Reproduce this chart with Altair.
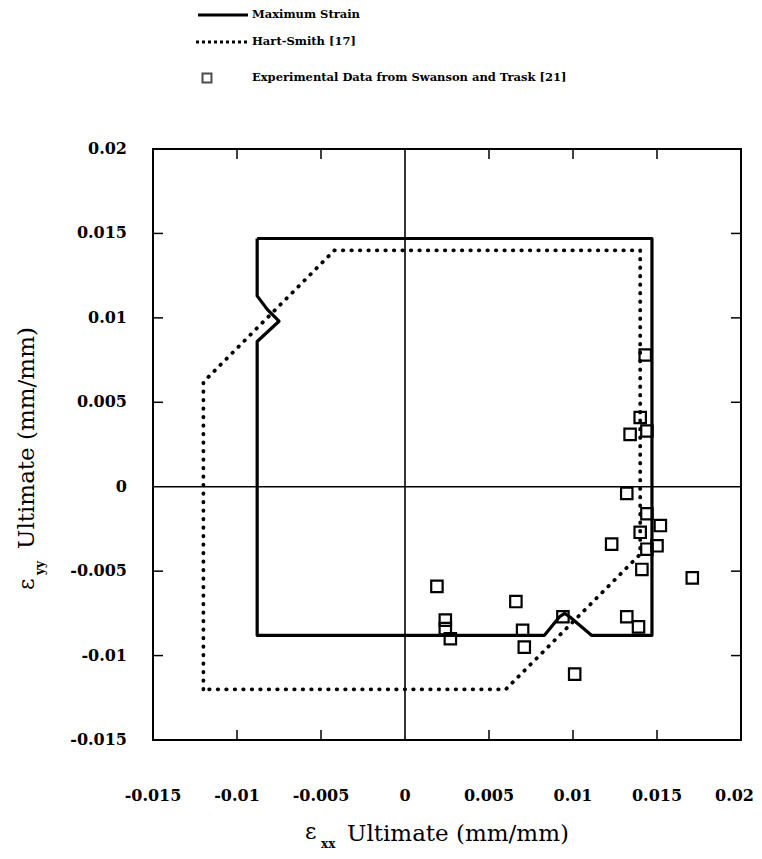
import altair as alt
import pandas as pd

# ---------------- data ----------------
# Maximum strain envelope (closed path)
max_strain_x = [-0.0088, 0.0147, 0.0147, 0.0111, 0.0098, 0.0095, 0.0092, 0.0083,
                -0.0088, -0.0088, -0.0075, -0.0082, -0.0088, -0.0088]
max_strain_y = [0.0147, 0.0147, -0.0088, -0.0088, -0.0077, -0.0075, -0.0077, -0.0088,
                -0.0088, 0.0086, 0.0098, 0.0105, 0.0113, 0.0147]

# Hart-Smith envelope (closed path)
hart_x = [-0.012, -0.012, -0.0042, 0.014, 0.014, 0.006, -0.012]
hart_y = [-0.012, 0.0062, 0.014, 0.014, -0.004, -0.012, -0.012]

# Experimental data (Swanson and Trask)
exp_x = [0.0143, 0.0140, 0.0144, 0.0134, 0.0132, 0.0144, 0.0152, 0.0140, 0.0123,
         0.0144, 0.0150, 0.0141, 0.0171, 0.0019, 0.0066, 0.0024, 0.0024, 0.0027,
         0.0070, 0.0071, 0.0094, 0.0132, 0.0139, 0.0101]
exp_y = [0.0078, 0.0041, 0.0033, 0.0031, -0.0004, -0.0016, -0.0023, -0.0027, -0.0034,
         -0.0037, -0.0035, -0.0049, -0.0054, -0.0059, -0.0068, -0.0079, -0.0084, -0.0090,
         -0.0085, -0.0095, -0.0077, -0.0077, -0.0083, -0.0111]

tick_values = [-0.015, -0.01, -0.005, 0, 0.005, 0.01, 0.015, 0.02]
tick_labels = ["-0.015", "-0.01", "-0.005", "0", "0.005", "0.01", "0.015", "0.02"]
inner_ticks = [-0.01, -0.005, 0.005, 0.01, 0.015]

legend_labels = ["Maximum Strain", "Hart-Smith [17]",
                 "Experimental Data from Swanson and Trask [21]"]
x_title = "Ultimate (mm/mm)"
y_title = "Ultimate (mm/mm)"

# ---------------- chart ----------------
W, H = 588, 591
SERIF = "DejaVu Serif"
DOM = [-0.015, 0.02]

xs = alt.Scale(domain=DOM, nice=False, zero=False)
ys = alt.Scale(domain=DOM, nice=False, zero=False)


def X(f):
    return alt.X(f, scale=xs, axis=None)


def Y(f):
    return alt.Y(f, scale=ys, axis=None)


one = pd.DataFrame({"a": [0]})
zero_df = pd.DataFrame({"v": [0.0]})
ticks_df = pd.DataFrame({"t": inner_ticks})
lab_df = pd.DataFrame({"t": tick_values, "lab": tick_labels})
xlab_main = lab_df.iloc[:-1]
xlab_last = lab_df.iloc[-1:]

zero_v = alt.Chart(zero_df).mark_rule(color="black", strokeWidth=1.6).encode(x=X("v:Q"))
zero_h = alt.Chart(zero_df).mark_rule(color="black", strokeWidth=1.6).encode(y=Y("v:Q"))

TL = 10
tick_top = alt.Chart(ticks_df).mark_rule(color="black", strokeWidth=1.5).encode(
    x=X("t:Q"), y=alt.value(0), y2=alt.value(TL))
tick_bot = alt.Chart(ticks_df).mark_rule(color="black", strokeWidth=1.5).encode(
    x=X("t:Q"), y=alt.value(H - TL), y2=alt.value(H))
tick_left = alt.Chart(ticks_df).mark_rule(color="black", strokeWidth=1.5).encode(
    y=Y("t:Q"), x=alt.value(0), x2=alt.value(TL))
tick_right = alt.Chart(ticks_df).mark_rule(color="black", strokeWidth=1.5).encode(
    y=Y("t:Q"), x=alt.value(W - TL), x2=alt.value(W))

# tick labels drawn through the scales
lab_style = dict(font=SERIF, fontWeight="bold", fontSize=16, baseline="middle",
                 color="black")
xlabels = alt.Chart(xlab_main).mark_text(align="center", **lab_style).encode(
    x=X("t:Q"), y=alt.value(H + 56), text="lab:N")
xlabel_last = alt.Chart(xlab_last).mark_text(align="right", dx=13, **lab_style).encode(
    x=X("t:Q"), y=alt.value(H + 56), text="lab:N")
ylabels = alt.Chart(lab_df).mark_text(align="right", **lab_style).encode(
    y=Y("t:Q"), x=alt.value(-26), text="lab:N")

max_df = pd.DataFrame({"x": max_strain_x, "y": max_strain_y,
                       "o": list(range(len(max_strain_x)))})
hart_df = pd.DataFrame({"x": hart_x, "y": hart_y, "o": list(range(len(hart_x)))})
exp_df = pd.DataFrame({"x": exp_x, "y": exp_y})

max_line = alt.Chart(max_df).mark_line(color="black", strokeWidth=3.2,
                                       strokeJoin="round").encode(
    x=X("x:Q"), y=Y("y:Q"), order="o:O")
hart_line = alt.Chart(hart_df).mark_line(color="black", strokeWidth=3.8,
                                         strokeCap="round",
                                         strokeDash=[0.5, 8]).encode(
    x=X("x:Q"), y=Y("y:Q"), order="o:O")
pts = alt.Chart(exp_df).mark_square(filled=False, color="black", size=130,
                                    strokeWidth=2.2, opacity=1).encode(
    x=X("x:Q"), y=Y("y:Q"))

# ---- legend (manual) ----
leg_solid = alt.Chart(one).mark_rule(color="black", strokeWidth=3).encode(
    x=alt.value(45), x2=alt.value(95), y=alt.value(-134))
leg_dot = alt.Chart(one).mark_rule(color="black", strokeWidth=3, strokeDash=[3, 3]).encode(
    x=alt.value(43), x2=alt.value(94), y=alt.value(-107))
leg_sq = alt.Chart(one).mark_square(filled=False, color="black", size=80,
                                    strokeWidth=2).encode(
    x=alt.value(54), y=alt.value(-71))


def txt(s, x, y, size, weight="bold", angle=0):
    kw = dict(align="left", baseline="middle", font=SERIF, fontSize=size,
              fontWeight=weight, color="black")
    if angle:
        kw["angle"] = angle
    return alt.Chart(one).mark_text(**kw).encode(
        x=alt.value(x), y=alt.value(y), text=alt.value(s))


leg_t1 = txt(legend_labels[0], 99, -134, 11.5)
leg_t2 = txt(legend_labels[1], 99, -107, 11.5)
leg_t3 = txt(legend_labels[2], 99, -71, 11.5)

# ---- axis titles with epsilon + subscript ----
xt_eps = txt("\u03b5", 152, 683, 22, "normal")
xt_sub = txt("xx", 168, 695, 12, "bold")
xt_main = txt(x_title, 194, 685, 23, "normal")

yt_eps = txt("\u03b5", -126, 441, 22, "normal", angle=270)
yt_sub = txt("yy", -113, 426, 12, "bold", angle=270)
yt_main = txt(y_title, -126, 400, 23, "normal", angle=270)

chart = alt.layer(
    zero_v, zero_h, tick_top, tick_bot, tick_left, tick_right,
    xlabels, xlabel_last, ylabels,
    hart_line, max_line, pts,
    leg_solid, leg_dot, leg_sq, leg_t1, leg_t2, leg_t3,
    xt_eps, xt_sub, xt_main, yt_eps, yt_sub, yt_main,
).properties(
    width=W, height=H,
    autosize=alt.AutoSizeParams(type="none"),
    padding={"left": 145, "top": 141, "right": 13, "bottom": 111},
    background="white",
).configure_view(stroke="black", strokeWidth=2)

chart.save("out.html", embed_options={"renderer": "svg", "actions": False})
